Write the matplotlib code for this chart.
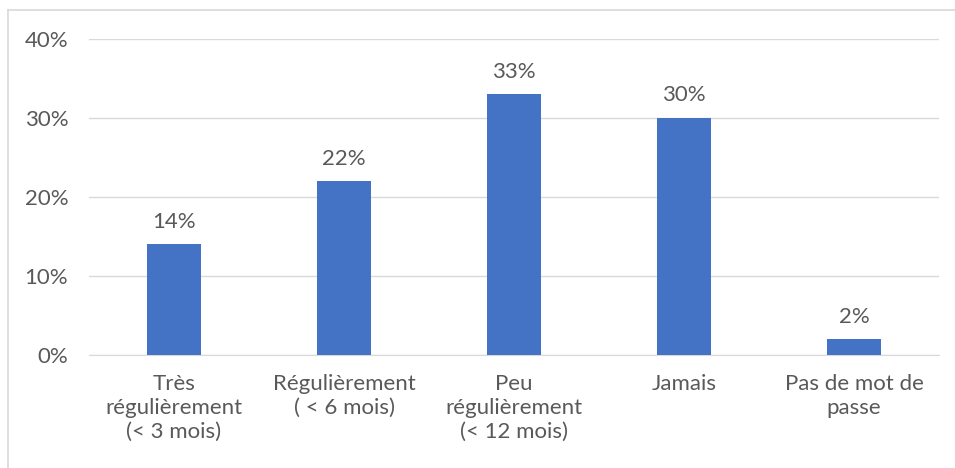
import matplotlib.pyplot as plt
from matplotlib.lines import Line2D
from matplotlib.ticker import FuncFormatter

categories = ["Très\nrégulièrement\n(< 3 mois)", "Régulièrement\n( < 6 mois)",
              "Peu\nrégulièrement\n(< 12 mois)", "Jamais", "Pas de mot de\npasse"]
values = [0.14, 0.22, 0.33, 0.30, 0.02]
yticks = [0, 0.1, 0.2, 0.3, 0.4]

plt.rcParams["font.family"] = ["Lato", "DejaVu Sans"]
text_col = "#595959"
fs = 16

fig = plt.figure(figsize=(9.55, 4.68), dpi=100)
ax = fig.add_axes([89/955, 1 - 355/468, 850/955, 316/468])

x = range(len(values))
bars = ax.bar(x, values, width=0.32, color="#4472c4", zorder=3)
for xi, v in zip(x, values):
    ax.annotate(f"{round(v*100)}%", (xi, v), xytext=(0, 9), textcoords="offset points",
                ha="center", va="bottom", fontsize=fs, color=text_col)

ax.set_xlim(-0.5, len(values) - 0.5)
ax.set_ylim(0, 0.4)
ax.set_yticks(yticks)
ax.yaxis.set_major_formatter(FuncFormatter(lambda v, p: f"{round(v*100)}%"))
ax.set_xticks(list(x))
ax.set_xticklabels(categories, linespacing=1.22)
ax.tick_params(axis="both", length=0, labelsize=fs, labelcolor=text_col)
ax.tick_params(axis="x", pad=14)
ax.tick_params(axis="y", pad=15)
ax.grid(axis="y", color="#d9d9d9", linewidth=1, zorder=0)
for s in ["top", "right", "left"]:
    ax.spines[s].set_visible(False)
ax.spines["bottom"].set_color("#d9d9d9")

# chart frame (partially visible)
fig.add_artist(Line2D([8/955, 8/955], [0, 1 - 10/468], color="#d9d9d9", lw=1.2, transform=fig.transFigure))
fig.add_artist(Line2D([8/955, 1], [1 - 10/468, 1 - 10/468], color="#d9d9d9", lw=1.2, transform=fig.transFigure))

fig.savefig("out.png", dpi=100)
